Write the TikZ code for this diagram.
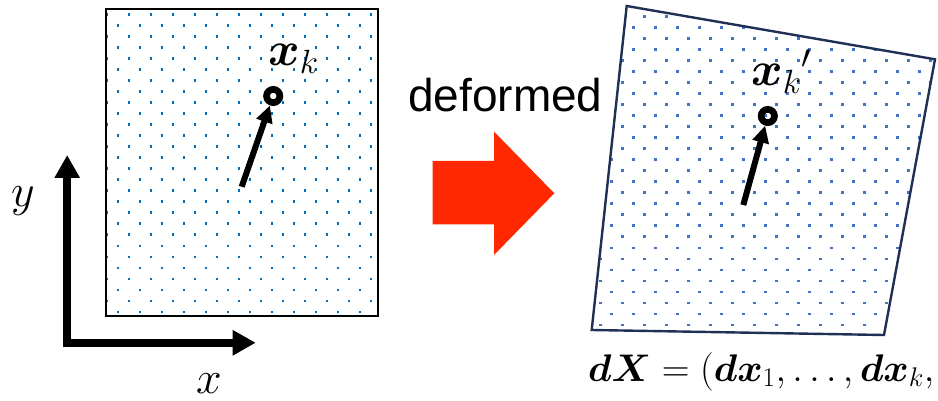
\documentclass[tikz,border=0pt]{standalone}
\usepackage{fix-cm}
\usepackage{amsmath,bm}
\usepackage{fontspec}
\newfontfamily\arialf{Liberation Sans}
\usetikzlibrary{arrows.meta}
\definecolor{dotA}{RGB}{0,112,192}
\definecolor{dotB}{RGB}{68,114,196}
\definecolor{navy}{RGB}{31,48,84}
\definecolor{redarr}{RGB}{255,40,0}
\tikzset{
  ring/.style={circle, draw=black, line width=6.7pt, minimum size=13.3pt, inner sep=0pt},
  ptarrow/.style={line width=6pt, -{Triangle[length=17pt,width=16pt]}},
  axisarrow/.style={line width=7.6pt, line join=miter, {Triangle[length=23pt,width=24pt]}-{Triangle[length=23pt,width=24pt]}},
  lbl/.style={inner sep=0pt, anchor=base west},
}
\begin{document}
\begin{tikzpicture}[x=1pt,y=-1pt]
\useasboundingbox (0,0) rectangle (938,401);
% left dotted square
\begin{scope}
\clip (107,10) rectangle (377,315);
\foreach \r in {0,...,27} {
  \pgfmathsetmacro\yy{14.7+11*\r}
  \pgfmathsetmacro\xs{mod(\r,2)==0 ? 129 : 118}
  \foreach \c in {-1,...,12} {
    \fill[dotA] (\xs+22*\c-1.2, \yy-1.2) rectangle ++(2.4,2.4);
  }
}
\end{scope}
\draw[line width=2pt] (106,9) rectangle (378,316);
% right deformed quadrilateral
\begin{scope}
\clip (626.7,6) -- (935,59.3) -- (884,335) -- (591.7,330) -- cycle;
\foreach \r in {0,...,29} {
  \pgfmathsetmacro\yy{16.7+11*\r}
  \pgfmathsetmacro\xs{mod(\r,2)==0 ? 644.3 : 633.3}
  \foreach \c in {-3,...,14} {
    \fill[dotB] (\xs+22*\c-1.2, \yy-1.2) rectangle ++(2.4,2.4);
  }
}
\end{scope}
\draw[navy, line width=2.4pt, line join=miter] (626.7,6) -- (935,59.3) -- (884,335) -- (591.7,330) -- cycle;
% points and arrows
\node[ring] (lpt) at (273.2,96) {};
\coordinate (ltail) at (241.7,186.7);
\draw[ptarrow] (ltail) -- (lpt);
\node[lbl, font=\fontsize{48}{52}\selectfont] (lk) at (268,66) {$\bm{x}_k$};
\node[ring] (rpt) at (767.8,116) {};
\coordinate (rtail) at (743.3,205);
\draw[ptarrow] (rtail) -- (rpt);
\node[lbl, font=\fontsize{48}{52}\selectfont] (rk) at (751,86) {$\bm{x}_k{}'$};
% deformed label and red arrow
\node[lbl, font=\arialf\fontsize{46}{50}\selectfont] (def) at (408,112) {deformed};
\fill[redarr] (432.7,161) -- (494,161) -- (494,131.6) -- (554.3,193.3) -- (494,255) -- (494,224.3) -- (432.7,224.3) -- cycle;
% axes
\coordinate (yend) at (67.2,155);
\coordinate (orig) at (67.2,342.8);
\coordinate (xend) at (255.7,342.8);
\draw[axisarrow] (yend) -- (orig) -- (xend);
\node[lbl, font=\fontsize{46}{50}\selectfont] (ylab) at (11,207) {$y$};
\node[lbl, font=\fontsize{46}{50}\selectfont] (xlab) at (196,393) {$x$};
% equation
\node[lbl, font=\fontsize{38.5}{42}\selectfont] (eq) at (588,381) {$\bm{dX} = (\bm{dx}_1, \ldots, \bm{dx}_k,$};
\end{tikzpicture}
\end{document}
